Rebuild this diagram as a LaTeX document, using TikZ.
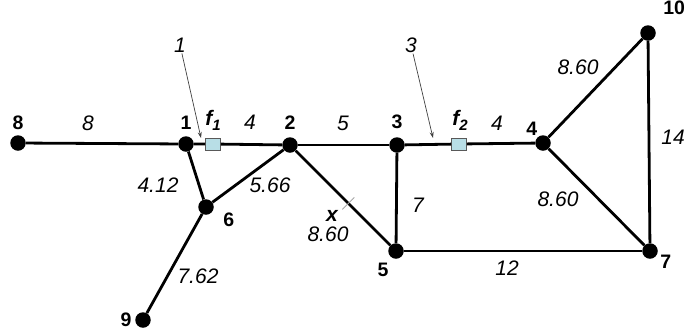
\documentclass[tikz,border=0pt]{standalone}
\usepackage{fontspec}
\setmainfont{Liberation Sans}
\usetikzlibrary{arrows.meta,calc}
\definecolor{fcell}{RGB}{184,222,230}
\newcommand{\fsub}[1]{\textbf{\textit{f}}\raisebox{-0.45ex}{\fontsize{15}{15}\selectfont\bfseries\itshape #1}}

\begin{document}
\begin{tikzpicture}[x=1pt, y=-1pt,
  vtx/.style={circle, fill=black, inner sep=0pt, minimum size=15.5pt},
  nlbl/.style={font=\fontsize{19.5}{22}\selectfont\bfseries, inner sep=1pt},
  elbl/.style={font=\fontsize{21}{24}\selectfont\itshape, inner sep=1pt},
  fcellbox/.style={draw=gray!70!black, fill=fcell, minimum width=15pt, minimum height=12pt, inner sep=0pt, line width=0.6pt},
  lnk/.style={line width=2.8pt},
  ptr/.style={-{Stealth[length=6pt,width=4pt]}, line width=0.7pt, draw=black!75}
]
\useasboundingbox (0,0) rectangle (689,333);

\node[vtx, label={[nlbl, label distance=4pt]above:8}] (n8) at (18,143) {};
\node[vtx, label={[nlbl, label distance=5.7pt]above:1}] (n1) at (186,144) {};
\node[vtx, label={[nlbl, label distance=6.7pt]above:2}] (n2) at (290,145) {};
\node[vtx, label={[nlbl, label distance=6.7pt]above:3}] (n3) at (397,145) {};
\node[vtx, label={[nlbl, label distance=0.2pt]125:4}] (n4) at (543,143) {};
\node[vtx, label={[nlbl, label distance=4.4pt]-121:5}] (n5) at (396,251) {};
\node[vtx, label={[nlbl, label distance=8.8pt]-15:6}] (n6) at (206,207) {};
\node[vtx, label={[nlbl, label distance=1.5pt]-15:7}] (n7) at (650,251) {};
\node[vtx, label={[nlbl, label distance=2.3pt]left:9}] (n9) at (143,320) {};
\node[vtx, label={[nlbl, label distance=14pt]50:10}] (n10) at (648,33) {};

\node[fcellbox] (f1) at (213,144) {};
\node[fcellbox] (f2) at (459,144) {};

\draw[lnk] (n8) -- (n1);
\draw[lnk] (n1) -- (f1) -- (n2);
\draw[lnk] (n2) -- (n3);
\draw[lnk] (n3) -- (f2) -- (n4);
\draw[lnk] (n4) -- (n10);
\draw[lnk] (n4) -- (n7);
\draw[lnk] (n10) -- (n7);
\draw[lnk] (n3) -- (n5);
\draw[lnk] (n5) -- (n7);
\draw[lnk] (n2) -- (n5);
\draw[lnk] (n2) -- (n6);
\draw[lnk] (n1) -- (n6);
\draw[lnk] (n6) -- (n9);

\node[elbl] (w81) at (88,123) {8};
\node[elbl] (w12) at (250,122) {4};
\node[elbl] (w23) at (343,123) {5};
\node[elbl] (w34) at (497,123) {4};
\node[elbl] (w410) at (578,67) {8.60};
\node[elbl] (w107) at (673,137) {14};
\node[elbl] (w47) at (558,199) {8.60};
\node[elbl] (w57) at (507,268) {12};
\node[elbl] (w35) at (418,205) {7};
\node[elbl] (w16) at (158,185) {4.12};
\node[elbl] (w26) at (270,185) {5.66};
\node[elbl] (w69) at (198,276) {7.62};
\node[elbl] (w25) at (328,234) {8.60};

\node[elbl, font=\fontsize{21}{24}\selectfont\bfseries\itshape] (tf1) at (213,120) {\fsub{1}};
\node[elbl, font=\fontsize{21}{24}\selectfont\bfseries\itshape] (tf2) at (460,120) {\fsub{2}};

% faults pointed at
\node[elbl] (p1) at (180,45) {1};
\node[elbl] (p3) at (411,45) {3};
\coordinate (p1end) at (201,138);
\coordinate (p3end) at (433,138);
\draw[ptr] (p1) -- (p1end);
\draw[ptr] (p3) -- (p3end);

% point x on 2-5
\path (n2) -- (n5) coordinate[pos=0.557] (xc);
\draw[gray!70, line width=0.8pt] ($(xc)+(6,-6)$) -- ($(xc)+(-6,6)$);
\node[elbl, font=\fontsize{21}{24}\selectfont\bfseries\itshape] (xl) at (332,216) {x};
\end{tikzpicture}
\end{document}
